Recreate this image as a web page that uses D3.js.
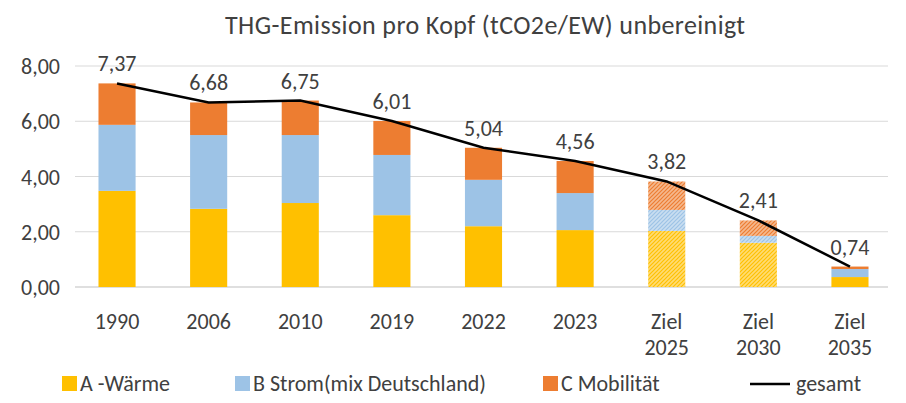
<!DOCTYPE html><html><head><meta charset="utf-8"><script src="https://cdn.jsdelivr.net/npm/d3@7"></script>
<style>body{margin:0;background:#fff}text{font-family:Carlito,Lato,sans-serif}</style></head><body><svg id="c" width="906" height="403"></svg><script>
const categories=["1990","2006","2010","2019","2022","2023","Ziel 2025","Ziel 2030","Ziel 2035"];
const waerme=[3.48,2.83,3.04,2.60,2.20,2.06,2.03,1.60,0.36];
const strom=[2.39,2.67,2.46,2.18,1.68,1.34,0.76,0.25,0.29];
const mobil=[1.50,1.18,1.25,1.23,1.16,1.16,1.03,0.56,0.09];
const gesamt=[7.37,6.68,6.75,6.01,5.04,4.56,3.82,2.41,0.74];
const yTicks=[0,2,4,6,8];
const hatched=[false,false,false,false,false,false,true,true,false];
const colors=["#FFC000","#9DC3E6","#ED7D31"];
const svg=d3.select("#c");
const defs=svg.append("defs");
colors.forEach((c,i)=>{const p=defs.append("pattern").attr("id","h"+i).attr("width",4).attr("height",4).attr("patternUnits","userSpaceOnUse");
p.append("rect").attr("width",4).attr("height",4).attr("fill",d3.interpolate(c,"#fff")(0.45));
p.append("path").attr("d","M-1,1L1,-1M0,4L4,0M3,5L5,3").attr("stroke",c).attr("stroke-width",1.2);});
const x=d3.scaleBand().domain(categories).range([71,896]).paddingInner(0.595).paddingOuter(0.3);
const y=d3.scaleLinear().domain([0,8]).range([287,66]);
svg.append("text").attr("x",485).attr("y",34).attr("text-anchor","middle").attr("font-size",26).attr("textLength",520).attr("fill","#404040").text("THG-Emission pro Kopf (tCO2e/EW) unbereinigt");
svg.append("g").selectAll("line").data(yTicks).join("line").attr("x1",75).attr("x2",888).attr("y1",d=>y(d)).attr("y2",d=>y(d)).attr("stroke",d=>d===0?"#bfbfbf":"#d9d9d9");
svg.append("g").selectAll("text").data(yTicks).join("text").attr("x",60).attr("y",d=>y(d)+8).attr("text-anchor","end").attr("font-size",22).attr("fill","#404040").text(d=>d.toFixed(2).replace(".",","));
const series=[waerme,strom,mobil];
categories.forEach((c,i)=>{let base=0;series.forEach((s,k)=>{svg.append("rect").attr("x",x(c)).attr("width",x.bandwidth()).attr("y",y(base+s[i])).attr("height",y(base)-y(base+s[i])).attr("fill",hatched[i]?`url(#h${k})`:colors[k]);base+=s[i];});
const parts=c.split(" ");parts.forEach((p,j)=>svg.append("text").attr("x",x(c)+x.bandwidth()/2).attr("y",329+j*26).attr("text-anchor","middle").attr("font-size",22).attr("fill","#404040").text(p));});
const line=d3.line().x((d,i)=>x(categories[i])+x.bandwidth()/2).y(d=>y(d));
svg.append("path").attr("d",line(gesamt)).attr("fill","none").attr("stroke","#000").attr("stroke-width",2.5);
svg.append("g").selectAll("text").data(gesamt).join("text").attr("x",(d,i)=>x(categories[i])+x.bandwidth()/2).attr("y",d=>y(d)-12).attr("text-anchor","middle").attr("font-size",22).attr("fill","#404040").text(d=>d.toFixed(2).replace(".",","));
const leg=[["A -Wärme",62,"r",colors[0]],["B Strom(mix Deutschland)",235,"r",colors[1]],["C Mobilität",543,"r",colors[2]],["gesamt",790,"l","#000"]];
leg.forEach(([t,lx,k,c])=>{if(k==="r")svg.append("rect").attr("x",lx).attr("y",376).attr("width",15).attr("height",15).attr("fill",c);else svg.append("line").attr("x1",lx-40).attr("x2",lx).attr("y1",384).attr("y2",384).attr("stroke",c).attr("stroke-width",2.5);
svg.append("text").attr("x",lx+(k==="r"?18:6)).attr("y",391).attr("font-size",22).attr("fill","#404040").text(t);});
</script></body></html>
